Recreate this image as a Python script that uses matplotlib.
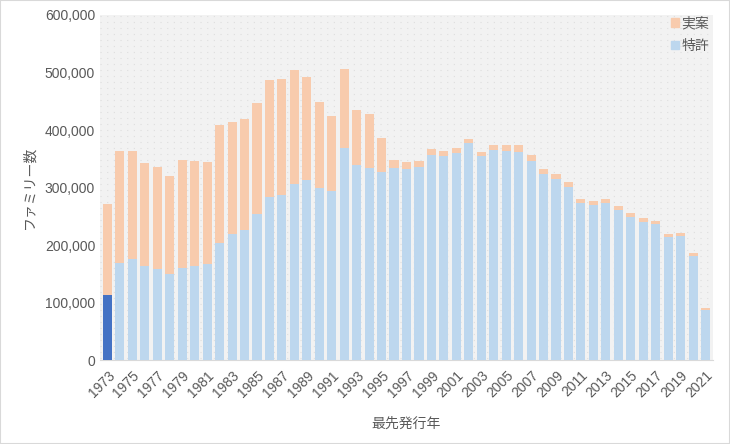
import numpy as np
import matplotlib.pyplot as plt
from matplotlib.patches import Patch
from matplotlib.ticker import FuncFormatter

plt.rcParams['font.family'] = ['Liberation Sans', 'Noto Sans CJK JP', 'DejaVu Sans']

years = list(range(1973, 2022))
total = [271300, 363500, 363500, 342600, 335700, 320000, 347800, 346100, 344300, 408700,
         413900, 419100, 447000, 487000, 488700, 504300, 492200, 448700, 424300, 506100,
         434800, 427800, 386100, 347800, 344300, 346100, 367000, 363500, 368700, 384300,
         361700, 373900, 373900, 373900, 356500, 332200, 323500, 309600, 280000, 276500,
         280000, 267800, 255700, 247000, 241700, 219100, 220900, 186100, 90400]
patent = [113000, 168700, 175700, 164000, 158300, 150100, 160600, 164000, 167500, 203500,
          219700, 226600, 254500, 283500, 287000, 306700, 313600, 299700, 293900, 369300,
          339100, 334500, 327500, 334500, 332200, 335700, 356500, 355300, 360000, 377400,
          355300, 365800, 363500, 362300, 346100, 324000, 314800, 300900, 273000, 269600,
          273000, 261400, 248700, 240500, 236500, 213900, 215700, 181400, 87500]
utility = [t - p for t, p in zip(total, patent)]

c_pat = '#bdd7ee'
c_uti = '#f8cbad'
c_txt = '#595959'

fig = plt.figure(figsize=(7.3, 4.44), dpi=100)
ax = fig.add_axes([100/730, 84/444, 613/730, 345/444])
ax.set_facecolor('#f2f2f2')

x = np.arange(len(years))
pcols = [c_pat] * len(years)
pcols[0] = '#4472c4'
ax.bar(x, patent, width=0.73, color=pcols, zorder=3)
ax.bar(x, utility, bottom=patent, width=0.73, color=c_uti, zorder=3)

# dotted background
for yy in np.arange(0.005, 1.0, 6/345):
    ax.plot([0, 1], [yy, yy], transform=ax.transAxes, color='#dedede',
            lw=0.8, ls=(0, (1, 5)), zorder=1)

ax.set_xlim(-0.6, len(years) - 0.4)
ax.set_ylim(0, 600000)
ax.set_yticks(range(0, 600001, 100000))
ax.yaxis.set_major_formatter(FuncFormatter(lambda v, p: f'{int(v):,}'))
ax.set_xticks(x[::2])
ax.set_xticklabels([str(y) for y in years[::2]], rotation=45, ha='right',
                   rotation_mode='anchor')
ax.tick_params(length=0, colors=c_txt, labelsize=10)
ax.tick_params(axis='x', pad=6)
for s in ['top', 'right', 'left']:
    ax.spines[s].set_visible(False)
ax.spines['bottom'].set_color('#d9d9d9')

ax.set_ylabel('ファミリー数', color=c_txt, fontsize=10, labelpad=6)
ax.set_xlabel('最先発行年', color=c_txt, fontsize=10, labelpad=12)

h = [Patch(color=c_uti), Patch(color=c_pat)]
fig.legend(h, ['実案', '特許'], loc='upper right', bbox_to_anchor=(722/730, 440/444),
           frameon=False, fontsize=10, handlelength=0.6, handleheight=0.6,
           handletextpad=0.2, labelspacing=0.6, labelcolor=c_txt)

fig.patches.append(plt.Rectangle((0, 0), 1, 1, transform=fig.transFigure, fill=False,
                                 edgecolor='#d9d9d9', lw=1.5))

fig.savefig('out.png', dpi=100, facecolor='white')
